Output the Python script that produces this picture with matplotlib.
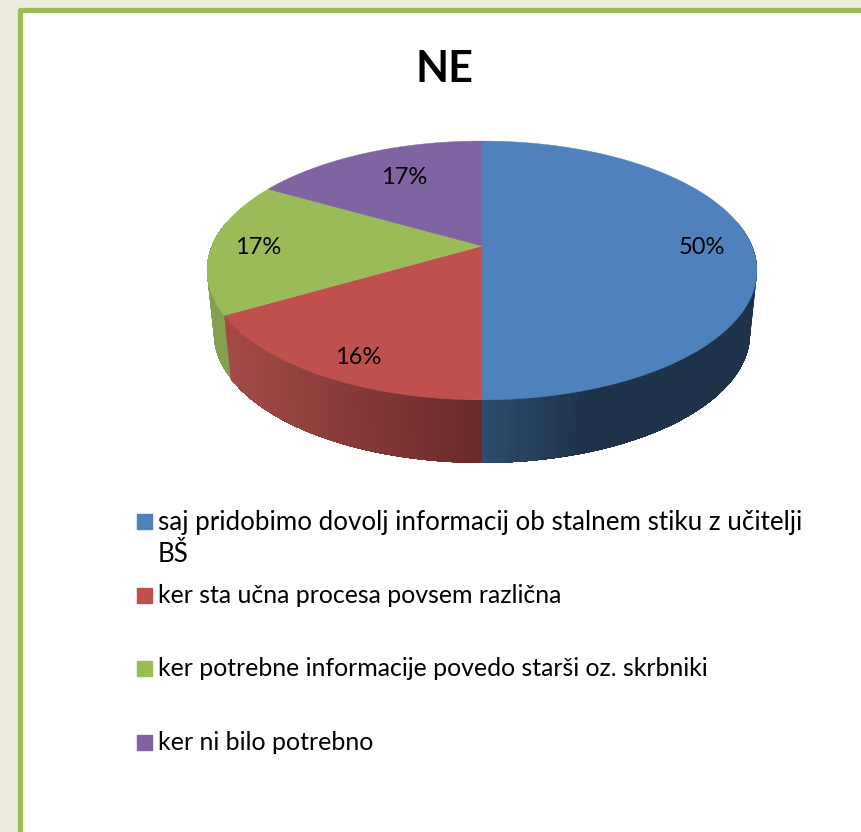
import numpy as np
import matplotlib
matplotlib.use('Agg')
import matplotlib.pyplot as plt
from matplotlib.colors import to_rgb

plt.rcParams['font.family'] = ['Lato', 'DejaVu Sans']

title = 'NE'
values = [50, 16.6, 16.7, 16.7]
pct_labels = ['50%', '16%', '17%', '17%']
colors = ['#4F81BD', '#C0504D', '#9BBB59', '#8064A2']
side_light = ['#2E4D70', '#A34A47', '#84A04E', '#6A5387']
side_dark = ['#1E3249', '#692A29', '#84A04E', '#6A5387']
legend_labels = ['saj pridobimo dovolj informacij ob stalnem stiku z učitelji\nBŠ',
                 'ker sta učna procesa povsem različna',
                 'ker potrebne informacije povedo starši oz. skrbniki',
                 'ker ni bilo potrebno']
legend_y = [521, 595, 668, 742]
legend_size = [18.75, 17.9, 17.9, 18]
label_pos = [(702, 248), (358, 357), (258, 247), (404, 178)]

# pie geometry in pixels
cx, cy = 482, 246
rx, ry = 270, 124.8
persp = 0.189
depth = 63
shrink = 0.975


def top_edge(turn):
    t = turn * 2 * np.pi
    d = 1 + persp * np.cos(t)
    return cx + rx * np.sin(t) / d, cy - ry * np.cos(t) / d


def bottom_edge(turn):
    x, y = top_edge(turn)
    return cx + (x - cx) * shrink, y + depth


fig = plt.figure(figsize=(8.61, 8.32), dpi=100, facecolor='#EEECE1')
ax = fig.add_axes([0, 0, 1, 1])
ax.set_xlim(0, 861)
ax.set_ylim(832, 0)
ax.axis('off')

# page frame
ax.fill([19.5, 880, 880, 19.5], [9.5, 9.5, 850, 850], facecolor='white',
        edgecolor='#9BBB59', linewidth=3.8, joinstyle='round', zorder=1)

ax.text(444, 69, title, fontsize=31, fontweight='bold', ha='center', va='center', color='black', zorder=5)

# sides first, then the top faces
edges = np.cumsum([0] + values) / sum(values)
for i in range(len(values)):
    turns = np.linspace(edges[i], edges[i + 1], 150)
    # only the front of the pie shows a side
    turns = turns[np.cos(turns * 2 * np.pi) < 0.2]
    if len(turns) < 2:
        continue
    xs_t, ys_t = top_edge(turns)
    xs_b, ys_b = bottom_edge(turns)
    c0 = np.array(to_rgb(side_light[i]))
    c1 = np.array(to_rgb(side_dark[i]))
    # each piece runs to the end of the slice, so no seams show between pieces
    for j in range(len(turns) - 1):
        if i == 0:
            f = min(max((xs_t[j] - 484) / 110, 0), 1)
        else:
            f = min(max((xs_t[j] - 231) / 251, 0), 1)
        ax.fill(np.r_[xs_t[j:], xs_b[j:][::-1]], np.r_[ys_t[j:], ys_b[j:][::-1]],
                color=c0 + (c1 - c0) * f, linewidth=0, zorder=2)

for i in range(len(values)):
    turns = np.linspace(edges[i], edges[i + 1], 200)
    xs, ys = top_edge(turns)
    ax.fill(np.r_[cx, xs], np.r_[cy, ys], color=colors[i], linewidth=0.3, zorder=3)

for lab, (px, py) in zip(pct_labels, label_pos):
    ax.text(px, py, lab, fontsize=17, ha='center', va='center', color='black', zorder=5)

# legend
for lab, col, ly, size in zip(legend_labels, colors, legend_y, legend_size):
    ax.fill([137, 152, 152, 137], [ly - 7.5, ly - 7.5, ly + 7.5, ly + 7.5], color=col, zorder=4)
    ax.text(158, ly - 11, lab, fontsize=size, ha='left', va='top', color='black',
            linespacing=1.35, zorder=5)

fig.savefig('out.png', dpi=100, facecolor=fig.get_facecolor())
